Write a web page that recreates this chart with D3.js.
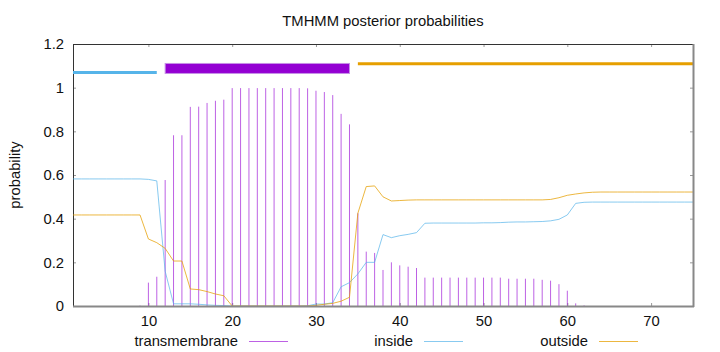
<!DOCTYPE html>
<html>
<head>
<meta charset="utf-8">
<script src="https://cdn.jsdelivr.net/npm/d3@7"></script>
<style>
  body { margin: 0; background: #fff; }
  text { font-family: "Liberation Sans", Arial, sans-serif; fill: #111; }
</style>
</head>
<body>
<div class="tmhmm_wrapper"></div>
<script>
// posterior probabilities per residue (1..75)
const transmembrane = [
  0, 0, 0, 0, 0, 0, 0, 0, 0.002, 0.107,
  0.134, 0.577, 0.782, 0.782, 0.912, 0.913, 0.93, 0.94, 0.945, 0.998,
  0.998, 0.998, 0.998, 0.998, 0.998, 0.998, 0.998, 0.998, 0.997, 0.986,
  0.98, 0.966, 0.88, 0.832, 0.425, 0.249, 0.243, 0.165, 0.2, 0.186,
  0.18, 0.174, 0.13, 0.13, 0.13, 0.13, 0.13, 0.13, 0.13, 0.13,
  0.13, 0.13, 0.125, 0.125, 0.125, 0.125, 0.12, 0.116, 0.1, 0.07,
  0.012, 0.003, 0, 0, 0, 0, 0, 0, 0, 0,
  0, 0, 0, 0, 0
]
const inside = [
  0.582, 0.582, 0.582, 0.582, 0.582, 0.582, 0.582, 0.582, 0.582, 0.58,
  0.573, 0.159, 0.01, 0.01, 0.01, 0.008, 0.005, 0.003, 0.002, 0,
  0, 0, 0, 0, 0, 0, 0, 0, 0.001, 0.009,
  0.009, 0.015, 0.088, 0.107, 0.147, 0.2, 0.2, 0.327, 0.313, 0.322,
  0.328, 0.336, 0.379, 0.38, 0.38, 0.38, 0.38, 0.38, 0.38, 0.381,
  0.381, 0.382, 0.384, 0.385, 0.385, 0.386, 0.387, 0.39, 0.397, 0.417,
  0.47, 0.475, 0.476, 0.476, 0.476, 0.476, 0.476, 0.476, 0.476, 0.476,
  0.476, 0.476, 0.476, 0.476, 0.476
]
const outside = [
  0.417, 0.417, 0.417, 0.417, 0.417, 0.417, 0.417, 0.417, 0.417, 0.307,
  0.29, 0.264, 0.206, 0.206, 0.078, 0.075, 0.066, 0.055, 0.047, 0,
  0, 0, 0, 0, 0, 0, 0, 0, 0, 0.003,
  0.008, 0.012, 0.022, 0.04, 0.425, 0.547, 0.55, 0.5, 0.481, 0.483,
  0.485, 0.486, 0.486, 0.486, 0.486, 0.486, 0.486, 0.486, 0.486, 0.486,
  0.486, 0.486, 0.486, 0.486, 0.486, 0.486, 0.486, 0.488, 0.496, 0.507,
  0.513, 0.518, 0.521, 0.522, 0.522, 0.522, 0.522, 0.522, 0.522, 0.522,
  0.522, 0.522, 0.522, 0.522, 0.522
]

// predicted topology segments: [label, start, end, level]
const segLabels = ["inside", "TMhelix", "outside"]
const segStart = [1, 12, 35]
const segEnd = [11, 34, 75]
const segLevel = [1.07, 1.088, 1.109]

const xTicks = [10, 20, 30, 40, 50, 60, 70]
const yTicks = [0, 0.2, 0.4, 0.6, 0.8, 1, 1.2]
const seriesNames = ["transmembrane", "inside", "outside"]

const colTM = "#9400d3", colIn = "#56b4e9", colOut = "#e69f00"

var margin = {top: 44, right: 27, bottom: 46, left: 73},
    width = 720 - margin.left - margin.right,
    height = 352 - margin.top - margin.bottom;

var svg0 = d3.select(".tmhmm_wrapper")
  .append("svg")
    .attr("width", 720)
    .attr("height", 352)

var svg = svg0.append("g")
    .attr("transform", "translate(" + margin.left + "," + margin.top + ")");

const xScale = d3.scaleLinear()
  .domain([1, 75])
  .range([0, width])

const yScale = d3.scaleLinear()
  .domain([0, 1.2])
  .range([height, 0])

// axes (ticks inward, mirrored)
const tickCol = "#999"
svg.append("g")
  .attr("transform", "translate(0," + height + ")")
  .call(d3.axisBottom(xScale).tickValues(xTicks).tickSizeInner(-3).tickSizeOuter(0).tickPadding(9))
  .call(g => g.select(".domain").remove())
  .call(g => g.selectAll("line").attr("stroke", tickCol))
  .call(g => g.selectAll("text").attr("font-size", "14.8px").attr("fill", "#111").attr("font-family", "Liberation Sans, Arial, sans-serif"))

svg.append("g")
  .call(d3.axisTop(xScale).tickValues(xTicks).tickSizeInner(-3).tickSizeOuter(0).tickFormat(""))
  .call(g => g.select(".domain").remove())
  .call(g => g.selectAll("line").attr("stroke", tickCol))

svg.append("g")
  .call(d3.axisLeft(yScale).tickValues(yTicks).tickSizeInner(-3).tickSizeOuter(0).tickPadding(9).tickFormat(d3.format("")))
  .call(g => g.select(".domain").remove())
  .call(g => g.selectAll("line").attr("stroke", tickCol))
  .call(g => g.selectAll("text").attr("font-size", "14.8px").attr("fill", "#111").attr("font-family", "Liberation Sans, Arial, sans-serif"))

svg.append("g")
  .attr("transform", "translate(" + width + ",0)")
  .call(d3.axisRight(yScale).tickValues(yTicks).tickSizeInner(-3).tickSizeOuter(0).tickFormat(""))
  .call(g => g.select(".domain").remove())
  .call(g => g.selectAll("line").attr("stroke", tickCol))

// border: dark on left/top, grey heavier on right/bottom
svg.append("line").attr("x1", 0.5).attr("x2", 0.5).attr("y1", 0).attr("y2", height)
  .attr("stroke", "#333").attr("stroke-width", 1)
svg.append("line").attr("x1", 0).attr("x2", width).attr("y1", 0.5).attr("y2", 0.5)
  .attr("stroke", "#333").attr("stroke-width", 1)

// impulses for transmembrane
svg.selectAll("myimpulse")
  .data(transmembrane)
  .enter()
  .append("line")
    .attr("x1", function(d, i) { return xScale(i + 1); })
    .attr("x2", function(d, i) { return xScale(i + 1); })
    .attr("y1", function(d) { return yScale(d); })
    .attr("y2", yScale(0))
    .attr("stroke", colTM)
    .attr("stroke-opacity", 0.62)
    .attr("stroke-width", 1)

const line = d3.line()
  .x(function(d, i) { return xScale(i + 1); })
  .y(function(d) { return yScale(d); })

svg.append("path")
  .datum(inside)
  .attr("d", line)
  .attr("fill", "none")
  .attr("stroke", colIn)
  .attr("stroke-opacity", 0.7)
  .attr("stroke-width", 1)

svg.append("path")
  .datum(outside)
  .attr("d", line)
  .attr("fill", "none")
  .attr("stroke", colOut)
  .attr("stroke-opacity", 0.75)
  .attr("stroke-width", 1)

// topology bars on top
svg.append("line")
  .attr("x1", xScale(segStart[0])).attr("x2", xScale(segEnd[0]))
  .attr("y1", yScale(segLevel[0])).attr("y2", yScale(segLevel[0]))
  .attr("stroke", colIn).attr("stroke-width", 3)

svg.append("rect")
  .attr("x", xScale(segStart[1])).attr("width", xScale(segEnd[1]) - xScale(segStart[1]))
  .attr("y", yScale(segLevel[1]) - 5).attr("height", 10)
  .attr("fill", colTM)
  .attr("stroke", "#c690e6").attr("stroke-width", 1)

svg.append("line")
  .attr("x1", xScale(segStart[2])).attr("x2", xScale(segEnd[2]))
  .attr("y1", yScale(segLevel[2])).attr("y2", yScale(segLevel[2]))
  .attr("stroke", colOut).attr("stroke-width", 3)

svg.append("line").attr("x1", width + 0.5).attr("x2", width + 0.5).attr("y1", 0).attr("y2", height + 1)
  .attr("stroke", "#888").attr("stroke-width", 2)
svg.append("line").attr("x1", 0).attr("x2", width + 1).attr("y1", height + 0.5).attr("y2", height + 0.5)
  .attr("stroke", "#888").attr("stroke-width", 2)

// title + y label
svg0.append("text")
  .attr("x", margin.left + width / 2)
  .attr("y", 26)
  .attr("text-anchor", "middle")
  .attr("font-size", "14.8px")
  .text("TMHMM posterior probabilities")

svg0.append("text")
  .attr("transform", "translate(20," + (margin.top + height / 2) + ") rotate(-90)")
  .attr("text-anchor", "middle")
  .attr("font-size", "14.8px")
  .text("probability")

// key along the bottom
const keyCols = [colTM, colIn, colOut]
const keyOp = [0.62, 0.7, 0.75]
const key = svg0.selectAll("mykey")
  .data(seriesNames)
  .enter()
  .append("g")
    .attr("transform", function(d, i) { return "translate(" + (238 + i * 175) + ",341)"; })

key.append("text")
  .attr("x", 0)
  .attr("y", 5)
  .attr("text-anchor", "end")
  .attr("font-size", "14.8px")
  .text(d => d)

key.append("line")
  .attr("x1", 11).attr("x2", 50)
  .attr("y1", 0.5).attr("y2", 0.5)
  .attr("stroke", (d, i) => keyCols[i])
  .attr("stroke-opacity", (d, i) => keyOp[i])
  .attr("stroke-width", 1)
</script>
</body>
</html>
